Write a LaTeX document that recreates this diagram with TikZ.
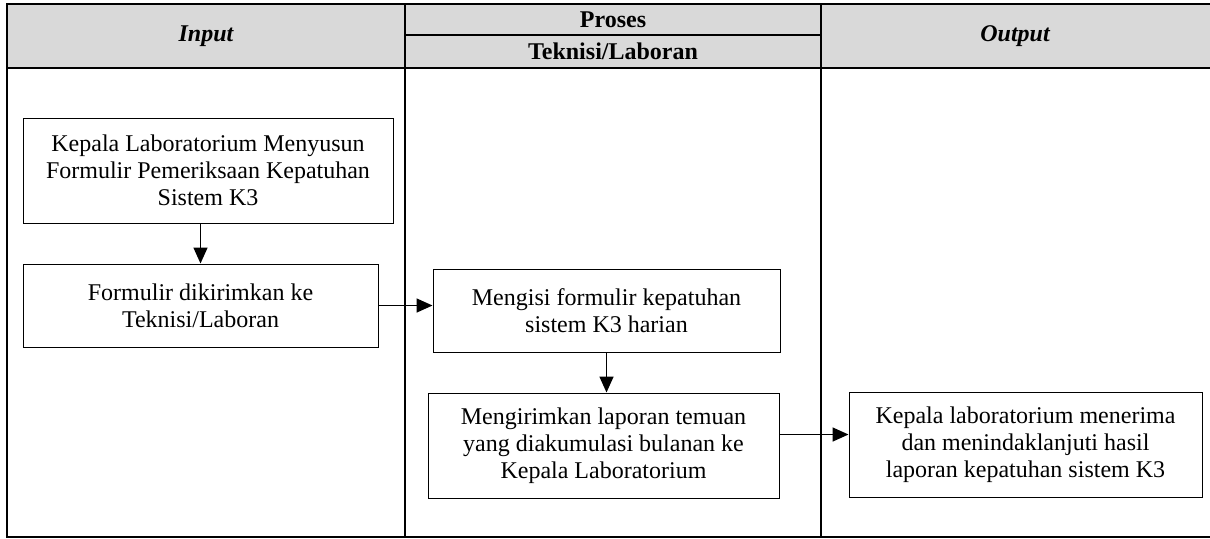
\documentclass[tikz,border=0pt]{standalone}
\usepackage{fontspec}
\setmainfont{Liberation Serif}
\usepackage{xcolor}
\usepackage{tikz}
\usetikzlibrary{calc,arrows.meta}
\definecolor{ink}{HTML}{000000}
\definecolor{head}{HTML}{D9D9D9}
\tikzset{
  grid/.style={draw=ink, line width=0.9pt},
  box/.style={draw=ink, line width=0.5pt, align=center, inner sep=0pt, font=\fontsize{12}{13.4}\selectfont},
  arr/.style={draw=ink, line width=0.8pt, -{Triangle[length=8pt,width=7pt]}},
  hd/.style={font=\fontsize{12}{14}\selectfont\bfseries},
  hdi/.style={font=\fontsize{12}{14}\selectfont\bfseries\itshape},
}

\begin{document}
\begin{tikzpicture}[x=0.5pt,y=-0.5pt]
  \pgfmathsetmacro{\xl}{7}
  \pgfmathsetmacro{\xa}{405}
  \pgfmathsetmacro{\xb}{821}
  \pgfmathsetmacro{\xr}{1211}
  \useasboundingbox (0,0) rectangle (1210,538);

  % table
  \fill[head] (\xl,4) rectangle (\xr,68);
  \draw[grid] (\xl,4) rectangle (\xr,537);
  \draw[grid] (\xl,68) -- (\xr,68);
  \draw[grid] (\xa,4) -- (\xa,537);
  \draw[grid] (\xb,4) -- (\xb,537);
  \draw[grid] (\xa,35) -- (\xb,35);

  \node[hdi] (hin) at (206,36) {Input};
  \node[hd] (hpro) at (613,19.5) {Proses};
  \node[hd] (htek) at (613,51.5) {Teknisi/Laboran};
  \node[hdi] (hout) at (1015,36) {Output};

  % steps
  \node[box, minimum width=185pt, minimum height=52.5pt] (susun) at (208,170.5)
    {Kepala Laboratorium Menyusun\\Formulir Pemeriksaan Kepatuhan\\Sistem K3};
  \node[box, minimum width=177.5pt, minimum height=41.5pt] (kirim) at (200.5,305.5)
    {Formulir dikirimkan ke\\Teknisi/Laboran};
  \node[box, minimum width=173.5pt, minimum height=41.5pt] (isi) at (606.5,310.5)
    {Mengisi formulir kepatuhan\\sistem K3 harian};
  \node[box, minimum width=175.5pt, minimum height=52.5pt] (lapor) at (603.5,445.5)
    {Mengirimkan laporan temuan\\yang diakumulasi bulanan ke\\Kepala Laboratorium};
  \node[box, minimum width=176.5pt, minimum height=52.5pt] (terima) at (1025.5,444.5)
    {Kepala laboratorium menerima\\dan menindaklanjuti hasil\\laporan kepatuhan sistem K3};

  \draw[arr] (susun.south -| kirim.north) -- (kirim.north);
  \draw[arr] (kirim.east) -- (kirim.east -| isi.west);
  \draw[arr] (isi.south) -- (isi.south |- lapor.north);
  \draw[arr] ([yshift=5.5pt]lapor.east) -- ([yshift=5.5pt]lapor.east -| terima.west);
\end{tikzpicture}
\end{document}
